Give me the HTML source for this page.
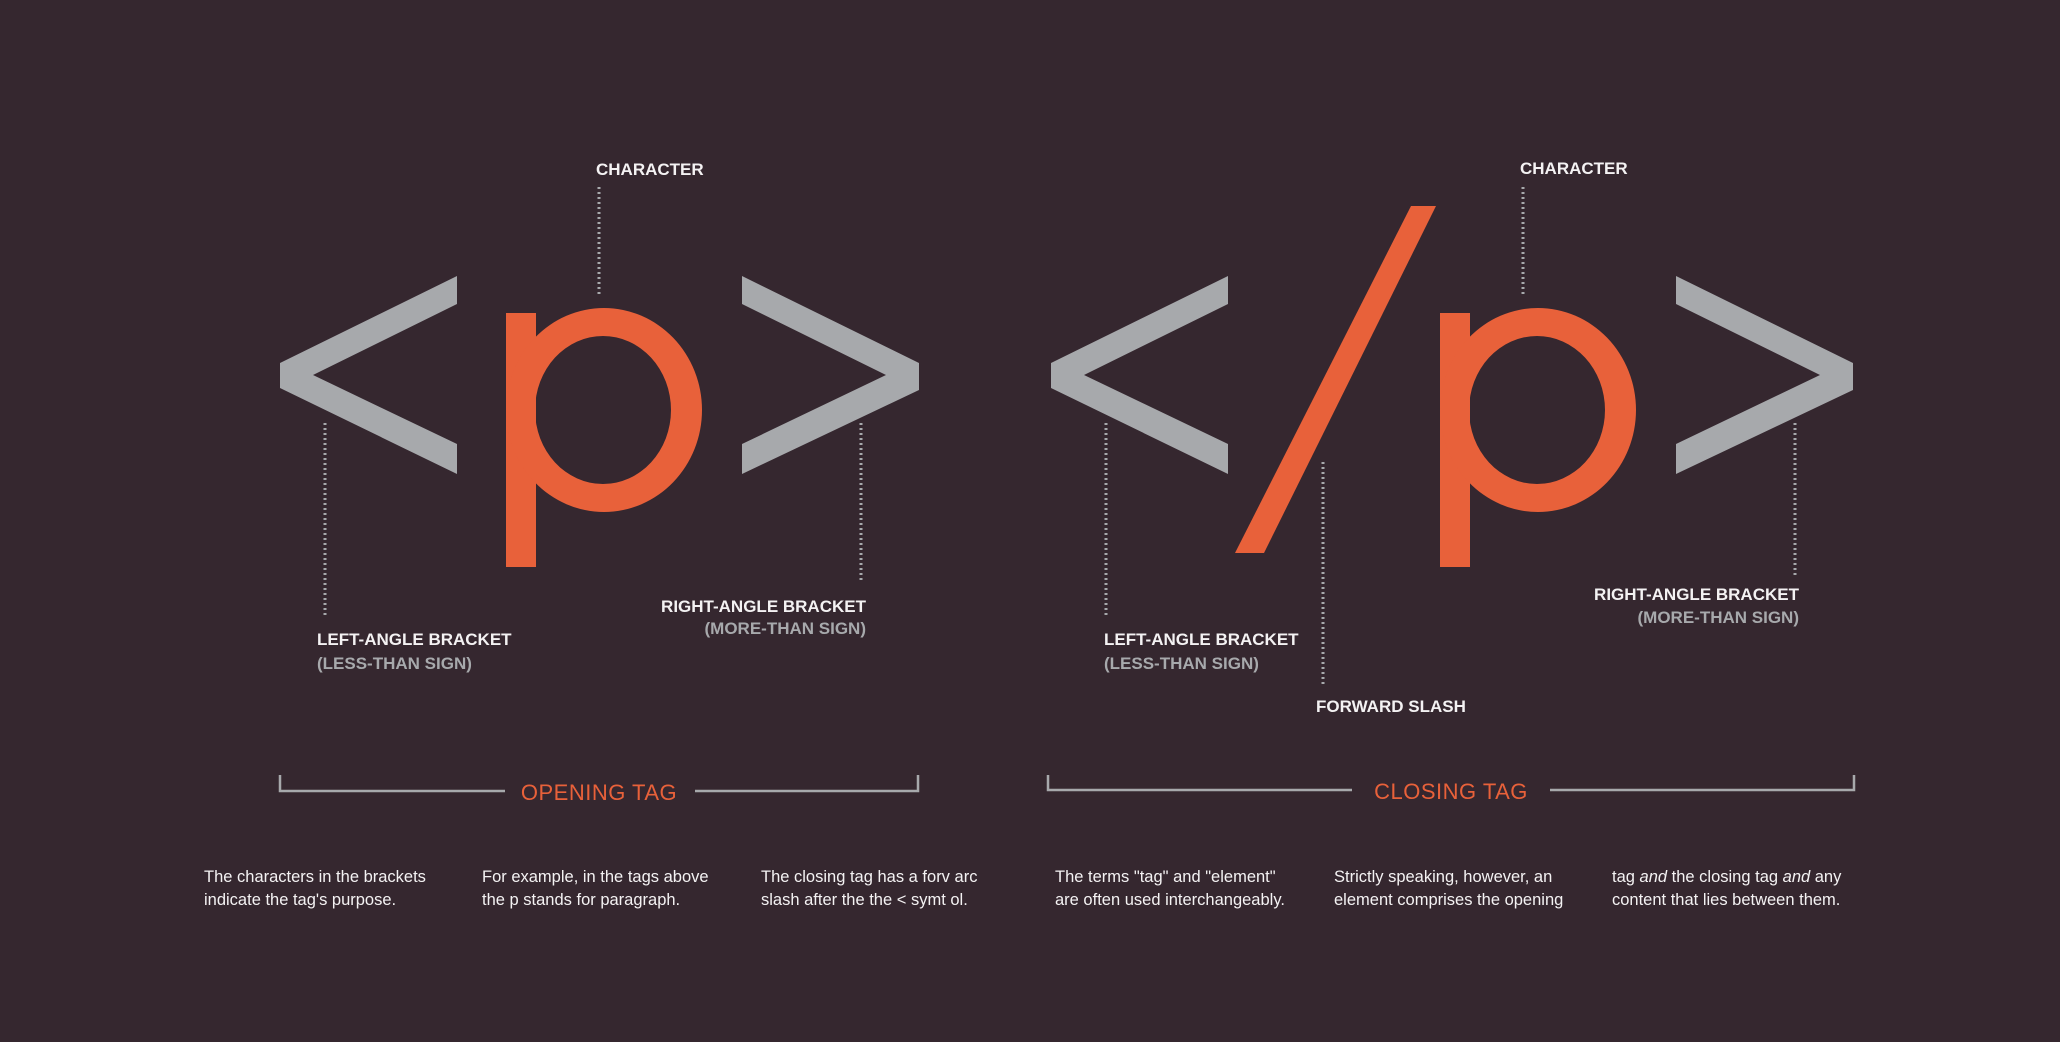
<!DOCTYPE html>
<html><head><meta charset="utf-8"><style>
html,body{margin:0;padding:0;background:#35272f;}
svg{display:block}
.lbl{font-family:"Liberation Sans",sans-serif;font-weight:bold;font-size:17px;fill:#f4f2f3;}
.sub{font-family:"Liberation Sans",sans-serif;font-weight:bold;font-size:17px;fill:#a7a9ac;}
.ttl{font-family:"Liberation Sans",sans-serif;font-size:22px;fill:#e8613a;letter-spacing:0.5px;}
.par{font-family:"Liberation Sans Narrow","Liberation Sans",sans-serif;font-size:16.5px;fill:#f4f2f3;}
.dot{stroke:#a7a9ac;stroke-width:3;stroke-dasharray:2 3;}
.br{stroke:#a7a9ac;stroke-width:2.5;fill:none;}
</style></head><body>
<svg width="2060" height="1042" viewBox="0 0 2060 1042">
<rect width="2060" height="1042" fill="#35272f"/>
<g>
<polygon fill="#a7a9ac" points="457,276 280,363 280,388 457,474 457,444 313,375 457,304"/>
<g fill="#e8613a">
<rect x="506" y="313" width="30" height="254"/>
<path fill-rule="evenodd" d="M506,410 a98,102 0 1,0 196,0 a98,102 0 1,0 -196,0z M535,410 a68,74 0 1,0 136,0 a68,74 0 1,0 -136,0z"/>
</g>
<polygon fill="#a7a9ac" points="742,276 919,363 919,390 742,474 742,444 886,375 742,304"/>
</g>
<line class="dot" x1="599" y1="187" x2="599" y2="296"/>
<line class="dot" x1="325" y1="423" x2="325" y2="615"/>
<line class="dot" x1="861" y1="423" x2="861" y2="580"/>
<text class="lbl" x="596" y="175">CHARACTER</text>
<text class="lbl" x="317" y="645">LEFT-ANGLE BRACKET</text>
<text class="sub" x="317" y="669">(LESS-THAN SIGN)</text>
<text class="lbl" x="866" y="612" text-anchor="end">RIGHT-ANGLE BRACKET</text>
<text class="sub" x="866" y="634" text-anchor="end">(MORE-THAN SIGN)</text>
<path class="br" d="M280,775V791H505 M695,791H918V775"/>
<text class="ttl" x="599" y="800" text-anchor="middle">OPENING TAG</text>
<g>
<polygon fill="#a7a9ac" transform="translate(771,0)" points="457,276 280,363 280,388 457,474 457,444 313,375 457,304"/>
<polygon fill="#e8613a" points="1411,206 1436,206 1264,553 1235,553"/>
<g fill="#e8613a" transform="translate(934,0)">
<rect x="506" y="313" width="30" height="254"/>
<path fill-rule="evenodd" d="M506,410 a98,102 0 1,0 196,0 a98,102 0 1,0 -196,0z M535,410 a68,74 0 1,0 136,0 a68,74 0 1,0 -136,0z"/>
</g>
<polygon fill="#a7a9ac" transform="translate(934,0)" points="742,276 919,363 919,390 742,474 742,444 886,375 742,304"/>
</g>
<line class="dot" x1="1523" y1="187" x2="1523" y2="296"/>
<line class="dot" x1="1106" y1="423" x2="1106" y2="617"/>
<line class="dot" x1="1323" y1="462" x2="1323" y2="686"/>
<line class="dot" x1="1795" y1="423" x2="1795" y2="578"/>
<text class="lbl" x="1520" y="174">CHARACTER</text>
<text class="lbl" x="1104" y="645">LEFT-ANGLE BRACKET</text>
<text class="sub" x="1104" y="669">(LESS-THAN SIGN)</text>
<text class="lbl" x="1799" y="600" text-anchor="end">RIGHT-ANGLE BRACKET</text>
<text class="sub" x="1799" y="623" text-anchor="end">(MORE-THAN SIGN)</text>
<text class="lbl" x="1316" y="712">FORWARD SLASH</text>
<path class="br" d="M1048,775V790H1352 M1550,790H1854V775"/>
<text class="ttl" x="1451" y="799" text-anchor="middle">CLOSING TAG</text>
<g>
<text class="par" x="204" y="882">The characters in the brackets</text>
<text class="par" x="204" y="905">indicate the tag's purpose.</text>
<text class="par" x="482" y="882">For example, in the tags above</text>
<text class="par" x="482" y="905">the p stands for paragraph.</text>
<text class="par" x="761" y="882">The closing tag has a forv arc</text>
<text class="par" x="761" y="905">slash after the the &lt; symt ol.</text>
<text class="par" x="1055" y="882">The terms "tag" and "element"</text>
<text class="par" x="1055" y="905">are often used interchangeably.</text>
<text class="par" x="1334" y="882">Strictly speaking, however, an</text>
<text class="par" x="1334" y="905">element comprises the opening</text>
<text class="par" x="1612" y="882">tag <tspan font-style="italic">and</tspan> the closing tag <tspan font-style="italic">and</tspan> any</text>
<text class="par" x="1612" y="905">content that lies between them.</text>
</g>
</svg>
</body></html>
